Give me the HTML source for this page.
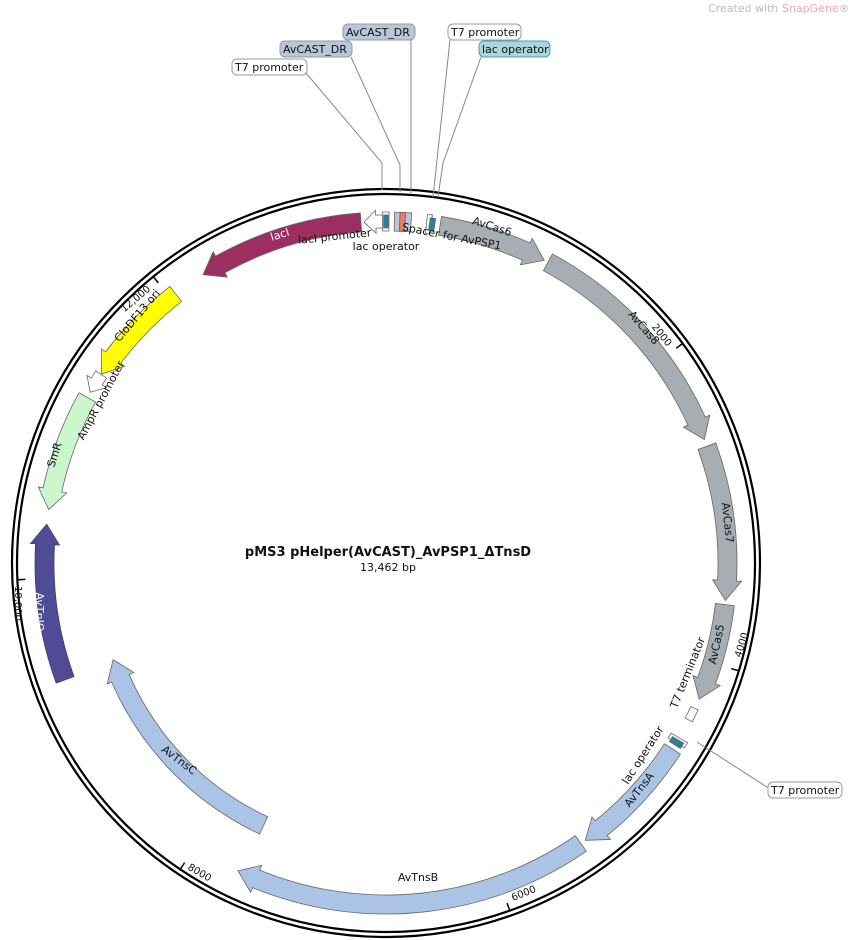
<!DOCTYPE html>
<html><head><meta charset="utf-8"><style>
html,body{margin:0;padding:0;background:#fff;width:867px;height:940px;overflow:hidden}
svg{display:block}
text{font-family:"DejaVu Sans","Liberation Sans",sans-serif;font-size:11px;fill:#111}
</style></head><body>
<svg id="s" width="867" height="940" viewBox="0 0 867 940">
<g id="shapes"></g>
<g stroke="#888" stroke-width="1" fill="none">
<polyline points="306,73 382,163 382,190"/>
<polyline points="351,57 400,165 400,192"/>
<polyline points="411,40 411,193"/>
<polyline points="450,40 433,197"/>
<polyline points="481,57 443,163 438,197"/>
<polyline points="697,742 770,789"/>
</g>
<g stroke="#999" stroke-width="1">
<rect x="343" y="24" width="72" height="16" rx="5" fill="#b7c6d8"/>
<rect x="280" y="41" width="72" height="16" rx="5" fill="#b7c6d8"/>
<rect x="232" y="59" width="75" height="16" rx="5" fill="#fff"/>
<rect x="448" y="24" width="73" height="16" rx="5" fill="#fff"/>
<rect x="479" y="41" width="71" height="16" rx="5" fill="#a9d6db" stroke="#4aa0ad"/>
<rect x="768" y="782" width="74" height="16" rx="5" fill="#fff"/>
</g>
<text x="346" y="36">AvCAST_DR</text>
<text x="283" y="53">AvCAST_DR</text>
<text x="235" y="71">T7 promoter</text>
<text x="451" y="36">T7 promoter</text>
<text x="482" y="53">lac operator</text>
<text x="771" y="794">T7 promoter</text>
<text x="708" y="12" style="fill:#bbb;font-size:11px">Created with <tspan style="fill:#f3a6a6">SnapGene</tspan>®</text>

<text x="388" y="556" text-anchor="middle" style="font-weight:bold;font-size:13px">pMS3 pHelper(AvCAST)_AvPSP1_ΔTnsD</text>
<text x="388" y="571" text-anchor="middle">13,462 bp</text>

<text transform="translate(281,238) rotate(-18)" text-anchor="middle" style="fill:#fff">lacI</text>
<text transform="translate(335,240) rotate(-6)" text-anchor="middle">lacI promoter</text>
<text transform="translate(386,250)" text-anchor="middle">lac operator</text>
<text transform="translate(451,240) rotate(11)" text-anchor="middle">Spacer for AvPSP1</text>
<text transform="translate(491,230) rotate(18)" text-anchor="middle">AvCas6</text>
<text transform="translate(641,330) rotate(49)" text-anchor="middle">AvCas8</text>
<text transform="translate(724,523) rotate(84)" text-anchor="middle">AvCas7</text>
<text transform="translate(720,645) rotate(-78)" text-anchor="middle">AvCas5</text>
<text transform="translate(691,674) rotate(-68)" text-anchor="middle">T7 terminator</text>
<text transform="translate(646,757) rotate(-57)" text-anchor="middle">lac operator</text>
<text transform="translate(642,792) rotate(-52)" text-anchor="middle">AvTnsA</text>
<text transform="translate(418,881)" text-anchor="middle">AvTnsB</text>
<text transform="translate(177,763) rotate(37)" text-anchor="middle">AvTnsC</text>
<text transform="translate(36,612) rotate(90)" text-anchor="middle" style="fill:#fff">AvTnIQ</text>
<text transform="translate(58,456) rotate(-72)" text-anchor="middle">SmR</text>
<text transform="translate(104,402) rotate(-62)" text-anchor="middle">AmpR promoter</text>
<text transform="translate(140,318) rotate(-50)" text-anchor="middle">CloDF13 ori</text>
<text transform="translate(151,290) rotate(-40)" text-anchor="end" style="font-size:10px">12,000</text>
<text transform="translate(15,586) rotate(90)" text-anchor="start" style="font-size:10px">10,000</text>
<text transform="translate(187,869) rotate(30)" text-anchor="start" style="font-size:10px">8000</text>
<text transform="translate(513,901) rotate(-22)" text-anchor="start" style="font-size:10px">6000</text>
<text transform="translate(741,658) rotate(-73)" text-anchor="start" style="font-size:10px">4000</text>
<text transform="translate(667,347) rotate(52)" text-anchor="end" style="font-size:10px">2000</text>
</svg>
<script>
(function(){
var cx=386,cy=563,NS="http://www.w3.org/2000/svg",g=document.getElementById("shapes");
function P(a,r){var t=a*Math.PI/180;return [cx+r*Math.sin(t),cy-r*Math.cos(t)];}
function f(p){return p[0].toFixed(2)+","+p[1].toFixed(2);}
function add(tag,at){var e=document.createElementNS(NS,tag);for(var k in at)e.setAttribute(k,at[k]);g.appendChild(e);return e;}
function arc(a1,a2,r){var p=P(a2,r);var large=Math.abs(a2-a1)>180?1:0;var sw=a2>a1?1:0;return " A"+r+","+r+" 0 "+large+","+sw+" "+f(p);}
function feat(a1,a2,r1,r2,dir,fill,stroke){
 var rm=(r1+r2)/2,hl=20,w=5,h=hl/rm*180/Math.PI,d;
 if(Math.abs(a2-a1)<h*1.3)h=Math.abs(a2-a1)*0.6;
 if(dir>0){var b=a2-h;d="M"+f(P(a1,r2))+arc(a1,b,r2)+" L"+f(P(b,r2+w))+" L"+f(P(a2,rm))+" L"+f(P(b,r1-w))+" L"+f(P(b,r1))+arc(b,a1,r1)+" Z";}
 else if(dir<0){var b=a1+h;d="M"+f(P(a2,r2))+arc(a2,b,r2)+" L"+f(P(b,r2+w))+" L"+f(P(a1,rm))+" L"+f(P(b,r1-w))+" L"+f(P(b,r1))+arc(b,a2,r1)+" Z";}
 else{d="M"+f(P(a1,r2))+arc(a1,a2,r2)+" L"+f(P(a2,r1))+arc(a2,a1,r1)+" Z";}
 add("path",{d:d,fill:fill,stroke:stroke||"#666","stroke-width":0.8});
}
add("circle",{cx:cx,cy:cy,r:374,fill:"none",stroke:"#000","stroke-width":2.2});
add("circle",{cx:cx,cy:cy,r:369,fill:"none",stroke:"#000","stroke-width":2.2});
[53.5,107,160.4,213.9,267.4,320.9].forEach(function(a){var p=P(a,361),q=P(a,369);add("line",{x1:p[0],y1:p[1],x2:q[0],y2:q[1],stroke:"#000","stroke-width":1.5});});
var R1=332,R2=351,grey="#a6adb3",blue="#abc4e6";
feat(9.1,27.6,R1,R2,1,grey);
feat(28.3,68.8,R1,R2,1,grey);
feat(70,96.3,R1,R2,1,grey);
feat(97,113.5,R1,R2,1,grey);
feat(115.2,117.4,337,345,0,"#fff");
feat(120.8,121.8,R1,R2,0,"#fff");
feat(121.2,122.2,335,348,0,"#2a7f9a");
feat(123,144.3,R1,R2,1,blue);
feat(145.2,205.7,R1,R2,1,blue);
feat(205,250.5,280,299,1,blue);
feat(250,276.5,R1,R2,1,"#514b95","#3d3a78");
feat(279,299,R1,R2,-1,"#ccf7cc");
feat(300,303.5,335,348,-1,"#fff");
feat(303.6,322,R1,R2,-1,"#ffff00");
feat(327.6,355.8,R1,R2,-1,"#9c2e62");
feat(356.3,359.6,335,348,-1,"#fff");
feat(359.4,360.5,R1,R2,0,"#fff");
feat(359.6,360.4,335,348,0,"#2a7f9a");
feat(361.4,364.2,R1,R2,0,"#b7c6d8");
feat(362.3,363.2,R1,R2,0,"#f07860");
feat(366.8,367.6,R1,R2,0,"#fff");
feat(367.3,368.2,335,348,0,"#2a7f9a");
})();
</script>
</body></html>
